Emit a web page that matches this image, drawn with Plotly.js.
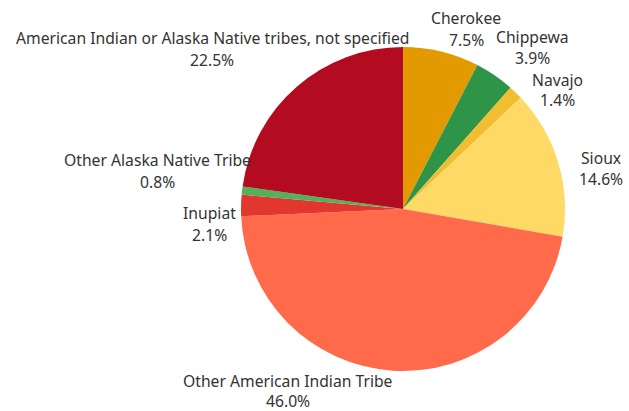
<!DOCTYPE html>
<html>
<head>
<meta charset="utf-8">
<script src="https://cdn.plot.ly/plotly-3.0.1.min.js"></script>
<style>html,body{margin:0;padding:0;background:#fff;}#chart{width:629px;height:411px;}</style>
</head>
<body>
<div id="chart"></div>
<script>
const tribes = ["Cherokee", "Chippewa", "Navajo", "Sioux", "Other American Indian Tribe", "Inupiat", "Other Alaska Native Tribe", "American Indian or Alaska Native tribes, not specified"];
const shares = [7.5, 3.9, 1.4, 14.6, 46.0, 2.1, 0.8, 22.5];
const colors = ["#E39A00", "#2E9448", "#F0BE30", "#FFD966", "#FF6A4A", "#E2372F", "#52B15A", "#B30B1F"];

// label positions in pixels: [centre x, name line y, percent line y] (layout only)
const labelPos = [[466, 18, 40], [532, 37, 58], [557, 80, 100], [601, 158, 179], [288, 381, 401], [209, 213, 235], [158, 160, 182], [212, 38, 60]];

const W = 629, H = 411;
const font = {family: "'Noto Sans', sans-serif", size: 15.7, color: "#333333"};
const annotations = [];
tribes.forEach((t, i) => {
  const p = labelPos[i];
  [[t, p[1]], [shares[i].toFixed(1) + "%", p[2]]].forEach(([txt, y]) => {
    annotations.push({
      text: txt, x: p[0] / W, y: 1 - y / H,
      xref: "paper", yref: "paper", xanchor: "center", yanchor: "middle",
      showarrow: false, align: "center", font: font, borderpad: 0
    });
  });
});

const cx = 403, cy = 209, r = 162;
Plotly.newPlot("chart", [{
  type: "pie",
  labels: tribes,
  values: shares,
  sort: false,
  direction: "clockwise",
  rotation: 0,
  marker: {colors: colors, line: {width: 0}},
  textinfo: "none",
  hoverinfo: "label+percent",
  domain: {x: [(cx - r) / W, (cx + r) / W], y: [1 - (cy + r) / H, 1 - (cy - r) / H]}
}], {
  width: W, height: H,
  margin: {l: 0, r: 0, t: 0, b: 0},
  showlegend: false,
  paper_bgcolor: "#ffffff",
  annotations: annotations
}, {displayModeBar: false, staticPlot: true});
</script>
</body>
</html>
